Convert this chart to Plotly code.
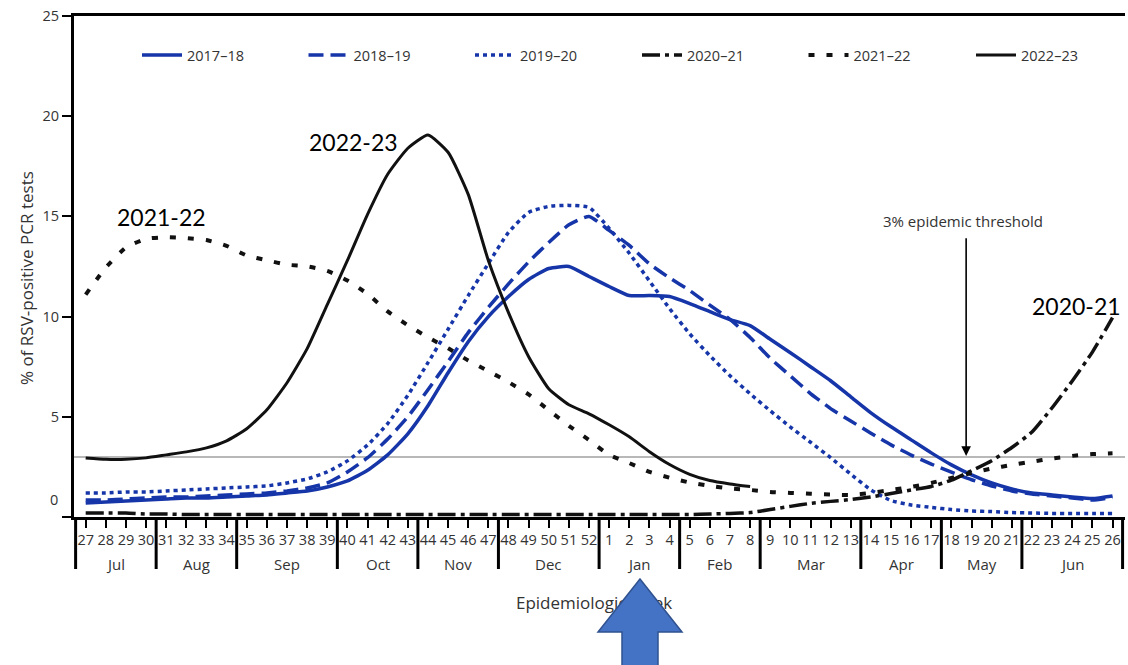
import plotly.graph_objects as go

# ---- data ----
week_labels = ["27", "28", "29", "30", "31", "32", "33", "34", "35", "36", "37", "38", "39",
               "40", "41", "42", "43", "44", "45", "46", "47", "48", "49", "50", "51", "52",
               "1", "2", "3", "4", "5", "6", "7", "8", "9", "10", "11", "12", "13",
               "14", "15", "16", "17", "18", "19", "20", "21", "22", "23", "24", "25", "26"]
months = ["Jul", "Aug", "Sep", "Oct", "Nov", "Dec", "Jan", "Feb", "Mar", "Apr", "May", "Jun"]
weeks_per_month = [4, 4, 5, 4, 4, 5, 4, 4, 5, 4, 4, 5]

s2017_18 = [0.7, 0.75, 0.8, 0.85, 0.9, 0.95, 0.95, 1.0, 1.05, 1.1, 1.2, 1.3, 1.5,
            1.8, 2.33, 3.1, 4.15, 5.55, 7.2, 8.75, 10.0, 11.0, 11.85, 12.4, 12.5, 12.0,
            11.5, 11.05, 11.05, 11.0, 10.65, 10.25, 9.85, 9.55, 8.87, 8.2, 7.5, 6.8, 6.0,
            5.2, 4.5, 3.85, 3.2, 2.6, 2.1, 1.7, 1.4, 1.2, 1.1, 1.0, 0.92, 1.05]
s2018_19 = [0.85, 0.85, 0.9, 0.95, 1.0, 1.0, 1.05, 1.1, 1.15, 1.2, 1.3, 1.45, 1.7,
            2.25, 2.96, 3.89, 5.0, 6.35, 7.76, 9.2, 10.46, 11.63, 12.73, 13.7, 14.58, 15.0,
            14.3, 13.55, 12.63, 11.93, 11.3, 10.57, 9.86, 8.96, 7.92, 7.04, 6.16, 5.41, 4.79,
            4.18, 3.6, 3.09, 2.64, 2.24, 1.86, 1.55, 1.3, 1.15, 1.05, 0.95, 0.85, 0.98]
s2019_20 = [1.2, 1.2, 1.25, 1.25, 1.3, 1.35, 1.4, 1.45, 1.5, 1.55, 1.7, 1.9, 2.25,
            2.8, 3.59, 4.66, 6.07, 7.7, 9.37, 11.05, 12.65, 14.2, 15.2, 15.5, 15.55, 15.45,
            14.4, 13.16, 11.78, 10.4, 9.14, 8.05, 7.05, 6.15, 5.3, 4.49, 3.73, 2.96, 2.14,
            1.35, 0.82, 0.6, 0.48, 0.37, 0.3, 0.27, 0.22, 0.2, 0.18, 0.18, 0.18, 0.18]
s2020_21 = [0.2, 0.2, 0.2, 0.15, 0.15, 0.12, 0.12, 0.12, 0.12, 0.12, 0.12, 0.12, 0.12,
            0.12, 0.12, 0.12, 0.12, 0.12, 0.12, 0.12, 0.12, 0.12, 0.12, 0.12, 0.12, 0.12,
            0.12, 0.12, 0.12, 0.12, 0.12, 0.15, 0.18, 0.22, 0.37, 0.53, 0.68, 0.78, 0.87,
            1.0, 1.17, 1.35, 1.52, 1.84, 2.31, 2.81, 3.47, 4.24, 5.45, 6.79, 8.23, 9.95]
s2021_22 = [11.1, 12.45, 13.45, 13.88, 13.96, 13.92, 13.82, 13.53, 13.05, 12.81, 12.59, 12.51, 12.28,
            11.8, 11.13, 10.26, 9.57, 8.97, 8.42, 7.81, 7.28, 6.73, 6.12, 5.33, 4.55, 3.84,
            3.1, 2.69, 2.25, 1.96, 1.72, 1.55, 1.42, 1.35, 1.25, 1.2, 1.16, 1.12, 1.1,
            1.2, 1.35, 1.5, 1.7, 1.95, 2.2, 2.42, 2.6, 2.76, 2.92, 3.05, 3.14, 3.18]
s2022_23 = [2.95, 2.88, 2.88, 2.95, 3.1, 3.25, 3.45, 3.8, 4.4, 5.35, 6.7, 8.4, 10.6,
            12.8, 15.1, 17.1, 18.4, 19.06, 18.2, 16.1, 12.8, 10.2, 8.0, 6.4, 5.6, 5.15,
            4.6, 4.0, 3.26, 2.62, 2.13, 1.82, 1.65, 1.52]

series_names = ["2017\u201318", "2018\u201319", "2019\u201320", "2020\u201321", "2021\u201322", "2022\u201323"]
series_values = [s2017_18, s2018_19, s2019_20, s2020_21, s2021_22, s2022_23]
threshold = 3

BLUE = "#1535A8"
BLACK = "#111111"
styles = [
    dict(color=BLUE, width=3.5, dash="solid"),
    dict(color=BLUE, width=3.5, dash="15px,7px"),
    dict(color=BLUE, width=3.5, dash="4px,4px"),
    dict(color=BLACK, width=3.5, dash="18px,5px,4px,5px"),
    dict(color=BLACK, width=4, dash="6px,12px"),
    dict(color=BLACK, width=3, dash="solid"),
]
legend_ids = ["legend", "legend", "legend", "legend2", "legend2", "legend3"]

x_all = list(range(len(week_labels)))
FONT = "Open Sans"
TXT = "#333333"

# layout geometry (figure pixels -> paper fractions)
W, H = 1128, 665
ML, MR, MT, MB = 74, 3, 16, 0
PW, PH = W - ML - MR, H - MT - MB
AXIS_Y = 517  # pixel row of the x axis line


def px(x):
    return (x - ML) / PW


def py(y):
    return (H - MB - y) / PH


fig = go.Figure()
for name, vals, st, lg in zip(series_names, series_values, styles, legend_ids):
    fig.add_trace(go.Scatter(
        x=x_all[:len(vals)], y=vals, mode="lines", name=name, legend=lg,
        line=dict(color=st["color"], width=st["width"], dash=st["dash"],
                  shape="spline", smoothing=0.5),
        hoverinfo="skip"))

# x axis title, drawn as text in a hidden lower subplot so the blue arrow can overlay it
T_DOM = 0.2
fig.add_trace(go.Scatter(
    x=[25.25], y=[py(605) / T_DOM], mode="text", text=["Epidemiologic week"],
    textfont=dict(family=FONT, size=17, color=TXT), textposition="middle center",
    xaxis="x2", yaxis="y2", showlegend=False, hoverinfo="skip"))

shapes = []
annotations = []
bounds = [-0.5]
for n in weeks_per_month:
    bounds.append(bounds[-1] + n)
for b in bounds:
    shapes.append(dict(type="line", xref="x", yref="paper", x0=b, x1=b,
                       y0=py(AXIS_Y), y1=py(569), line=dict(color="black", width=3)))
for m, a, b in zip(months, bounds[:-1], bounds[1:]):
    annotations.append(dict(text=m, x=(a + b) / 2, xref="x", y=py(564), yref="paper",
                            showarrow=False, font=dict(family=FONT, size=15, color=TXT),
                            xanchor="center", yanchor="middle"))

# threshold line
shapes.append(dict(type="line", xref="paper", yref="y", x0=0, x1=1, y0=threshold, y1=threshold,
                   line=dict(color="#a0a0a0", width=1.5), layer="below"))

# overlaid blue arrow below the x axis
pts = [(640, 579), (682, 632), (658, 632), (658, 672), (622, 672), (622, 632), (598, 632)]
path = "M" + " L".join("%.5f,%.5f" % (px(a), py(b)) for a, b in pts) + " Z"
shapes.append(dict(type="path", xref="paper", yref="paper", layer="above", path=path,
                   fillcolor="#4472C4", line=dict(color="#2F528F", width=1.5)))

# y tick "0" label (sits slightly above axis line)
annotations.append(dict(text="0", x=0, xref="paper", xanchor="right", xshift=-14,
                        y=0.85, yref="y", yanchor="middle", showarrow=False,
                        font=dict(family=FONT, size=14.5, color=TXT)))
# y axis title
annotations.append(dict(text="% of RSV-positive PCR tests", textangle=-90,
                        x=px(27), xref="paper", y=py(278), yref="paper",
                        xanchor="center", yanchor="middle", showarrow=False,
                        font=dict(family=FONT, size=17, color=TXT)))
# threshold annotation
annotations.append(dict(text="3% epidemic threshold", x=43.57, y=14.77, xref="x", yref="y",
                        showarrow=False, font=dict(family=FONT, size=15, color=TXT)))
annotations.append(dict(text="", x=43.73, y=threshold + 0.05, ax=43.73, ay=13.99,
                        xref="x", yref="y", axref="x", ayref="y", showarrow=True,
                        arrowhead=2, arrowsize=1.2, arrowwidth=1.6, arrowcolor="black"))
# season labels
big = dict(family="Lato", size=23, color="black")
annotations.append(dict(text="2022-23", x=13.31, y=18.69, xref="x", yref="y", showarrow=False, font=big))
annotations.append(dict(text="2021-22", x=3.79, y=14.96, xref="x", yref="y", showarrow=False, font=big))
annotations.append(dict(text="2020-21", x=49.23, y=10.54, xref="x", yref="y", showarrow=False, font=big))

legend_common = dict(orientation="h", xanchor="left", y=py(55), yanchor="middle",
                     font=dict(family=FONT, size=14.5, color=TXT), itemwidth=40,
                     bgcolor="rgba(0,0,0,0)", itemclick=False, itemdoubleclick=False)

fig.update_layout(
    width=W, height=H,
    margin=dict(l=ML, r=MR, t=MT, b=MB),
    plot_bgcolor="white", paper_bgcolor="white",
    font=dict(family=FONT, color=TXT),
    shapes=shapes, annotations=annotations,
    legend=dict(x=px(137), entrywidth=111.5, entrywidthmode="pixels", **legend_common),
    legend2=dict(x=px(637), entrywidth=111.5, entrywidthmode="pixels", **legend_common),
    legend3=dict(x=px(971), **legend_common),
    xaxis=dict(range=[-0.58, 51.62], tickvals=x_all, ticktext=week_labels, tickangle=0,
               ticks="outside", ticklen=8, tickwidth=2, tickcolor="black",
               showline=True, linewidth=3, linecolor="black", mirror=True,
               showgrid=False, zeroline=False, anchor="y",
               tickfont=dict(family=FONT, size=14.5, color=TXT)),
    yaxis=dict(range=[0, 25], domain=[py(AXIS_Y), 1], tickvals=[0, 5, 10, 15, 20, 25],
               ticktext=["", "5", "10", "15", "20", "25"],
               ticks="outside", ticklen=9, tickwidth=2, tickcolor="black",
               showline=True, linewidth=3, linecolor="black",
               showgrid=False, zeroline=False, anchor="x",
               tickfont=dict(family=FONT, size=14.5, color=TXT)),
    xaxis2=dict(range=[-0.58, 51.62], domain=[0, 1], anchor="y2", visible=False, fixedrange=True),
    yaxis2=dict(range=[0, 1], domain=[0, T_DOM], anchor="x2", visible=False, fixedrange=True),
)

fig.write_html("out.html")
